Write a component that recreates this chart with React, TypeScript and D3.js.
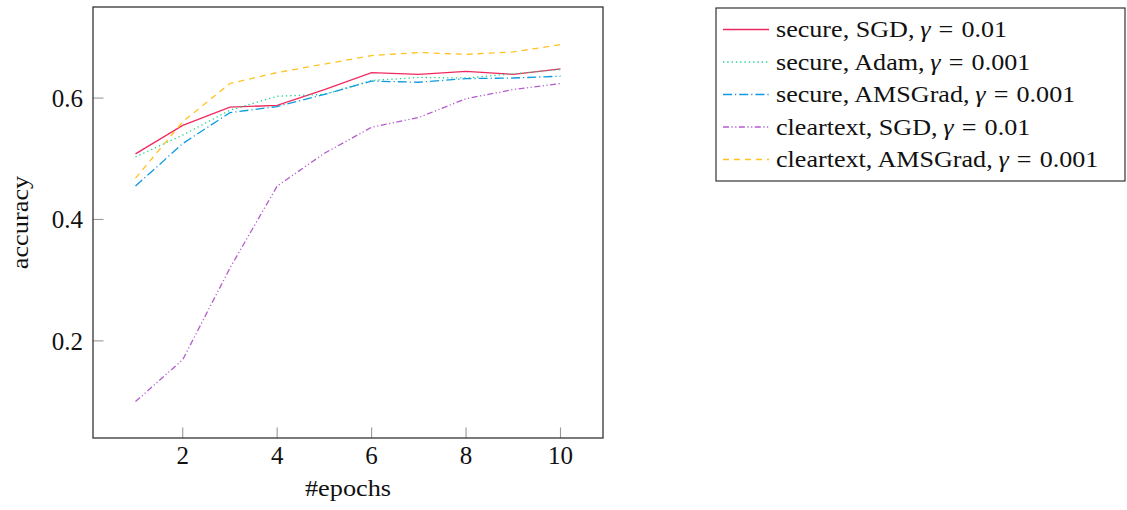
import React from "react";
import * as d3 from "d3";

const epochs = [1, 2, 3, 4, 5, 6, 7, 8, 9, 10];
const secureSGD = [0.508, 0.555, 0.585, 0.588, 0.614, 0.642, 0.639, 0.644, 0.639, 0.648];
const secureAdam = [0.503, 0.539, 0.58, 0.603, 0.606, 0.629, 0.634, 0.633, 0.64, 0.647];
const secureAMSGrad = [0.455, 0.525, 0.576, 0.586, 0.606, 0.628, 0.626, 0.632, 0.633, 0.636];
const clearSGD = [0.1, 0.169, 0.32, 0.455, 0.509, 0.552, 0.568, 0.599, 0.614, 0.624];
const clearAMSGrad = [0.468, 0.561, 0.624, 0.642, 0.656, 0.67, 0.675, 0.672, 0.676, 0.688];

const xTicks = [2, 4, 6, 8, 10];
const yTicks = [0.2, 0.4, 0.6];

const seriesNames = [
  ["secure, SGD,", "0.01"],
  ["secure, Adam,", "0.001"],
  ["secure, AMSGrad,", "0.001"],
  ["cleartext, SGD,", "0.01"],
  ["cleartext, AMSGrad,", "0.001"],
];

const seriesData = [secureSGD, secureAdam, secureAMSGrad, clearSGD, clearAMSGrad];
const colors = ["#f02a60", "#1fd48a", "#0c9be0", "#b45ccf", "#ffc21f"];
const dashes = ["none", "1.3 3", "9 3 1.2 3", "6 2.5 1.2 2.5 1.2 2.5", "6 5"];

export default function App() {
  const left = 93, right = 603, top = 7, bottom = 438;
  const x = d3.scaleLinear().domain([0.1, 10.9]).range([left, right]);
  const y = d3.scaleLinear().domain([0.04, 0.75]).range([bottom, top]);
  const line = d3
    .line<number>()
    .x((_, i) => x(epochs[i]))
    .y((d) => y(d));
  const font = "'Liberation Serif', 'Times New Roman', serif";
  const legX = 716, legY = 8, legW = 409, legH = 173;
  const rowY0 = 29.5, rowDy = 32.5;
  const sx = 1.12;
  const lsx = 1.16;

  return (
    <svg
      width={1127}
      height={510}
      style={{ position: "absolute", left: 0, top: 0, background: "#fff" }}
      fontFamily={font}
    >
      {/* ticks */}
      {xTicks.map((t) => (
        <line key={"xt" + t} x1={x(t)} x2={x(t)} y1={bottom} y2={bottom - 10.5} stroke="#999" strokeWidth={1.1} />
      ))}
      {yTicks.map((t) => (
        <line key={"yt" + t} x1={left} x2={left + 10.5} y1={y(t)} y2={y(t)} stroke="#999" strokeWidth={1.1} />
      ))}
      {/* series */}
      {seriesData.map((s, i) => (
        <path
          key={"s" + i}
          d={line(s) || ""}
          fill="none"
          stroke={colors[i]}
          strokeWidth={1.3}
          strokeDasharray={dashes[i]}
        />
      ))}
      {/* frame */}
      <rect x={left} y={top} width={right - left} height={bottom - top} fill="none" stroke="#333" strokeWidth={1.3} />
      {/* tick labels */}
      {xTicks.map((t) => (
        <text key={"xl" + t} x={x(t)} y={464} textAnchor="middle" fontSize={25} fill="#111">
          {t}
        </text>
      ))}
      {yTicks.map((t) => (
        <text key={"yl" + t} x={83} y={y(t) + 9} textAnchor="end" fontSize={25} fill="#111">
          {t.toFixed(1)}
        </text>
      ))}
      <text
        transform={`translate(348,496) scale(${sx},1)`}
        textAnchor="middle"
        fontSize={23.5}
        fill="#111"
      >
        #epochs
      </text>
      <text
        transform={`translate(28,${(top + bottom) / 2}) rotate(-90) scale(${sx},1)`}
        textAnchor="middle"
        fontSize={23.5}
        fill="#111"
      >
        accuracy
      </text>
      {/* legend */}
      <rect x={legX} y={legY} width={legW} height={legH} fill="#fff" stroke="#333" strokeWidth={1.2} />
      {seriesNames.map((n, i) => {
        const ly = rowY0 + i * rowDy;
        return (
          <g key={"lg" + i}>
            <line
              x1={723}
              x2={769}
              y1={ly}
              y2={ly}
              stroke={colors[i]}
              strokeWidth={1.3}
              strokeDasharray={dashes[i]}
            />
            <text transform={`translate(776,${ly + 7.5}) scale(${lsx},1)`} fontSize={22.5} fill="#111">
              {n[0]}
              <tspan dx={5} fontStyle="italic">γ</tspan>
              <tspan dx={7}>=</tspan>
              <tspan dx={7}>{n[1]}</tspan>
            </text>
          </g>
        );
      })}
    </svg>
  );
}
